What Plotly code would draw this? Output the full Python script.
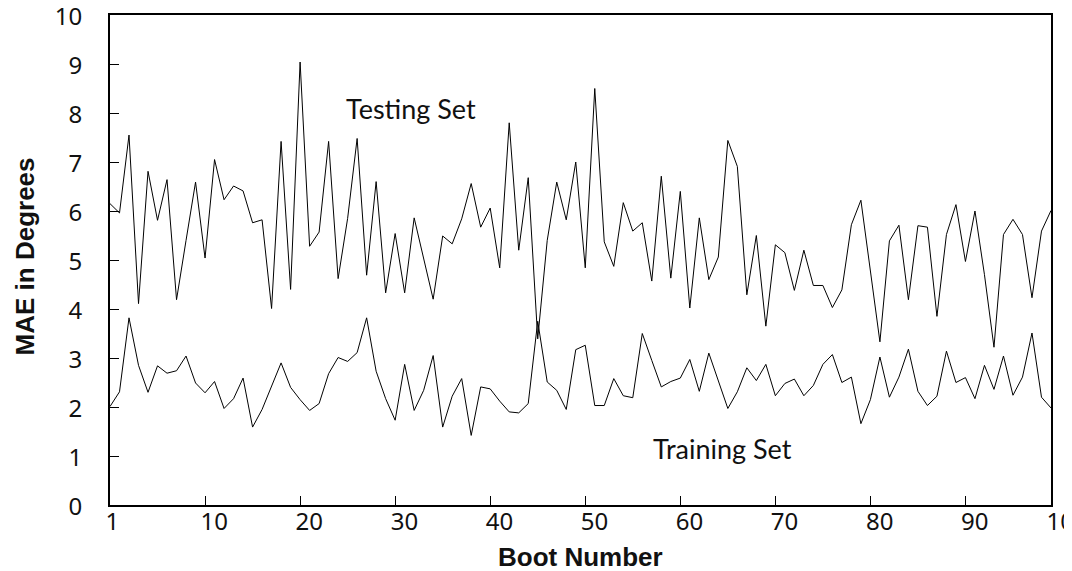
import plotly.graph_objects as go

boot_numbers = list(range(1, 101))

testing_mae = [6.15, 5.96, 7.55, 4.11, 6.81, 5.81, 6.64, 4.19, 5.40, 6.59,
               5.04, 7.05, 6.23, 6.51, 6.41, 5.76, 5.82, 4.01, 7.42, 4.40,
               9.04, 5.28, 5.57, 7.42, 4.62, 5.85, 7.48, 4.69, 6.60, 4.33,
               5.54, 4.33, 5.86, 5.03, 4.20, 5.49, 5.33, 5.84, 6.56, 5.67,
               6.06, 4.84, 7.80, 5.20, 6.68, 3.39, 5.40, 6.59, 5.82, 7.00,
               4.84, 8.50, 5.37, 4.87, 6.17, 5.59, 5.76, 4.57, 6.71, 4.63,
               6.40, 4.02, 5.86, 4.60, 5.06, 7.44, 6.91, 4.29, 5.50, 3.65,
               5.31, 5.15, 4.38, 5.20, 4.48, 4.48, 4.03, 4.39, 5.72, 6.22,
               4.75, 3.33, 5.39, 5.71, 4.19, 5.70, 5.67, 3.85, 5.52, 6.13,
               4.97, 6.00, 4.70, 3.22, 5.52, 5.83, 5.52, 4.23, 5.59, 6.01]

training_mae = [2.01, 2.31, 3.82, 2.85, 2.30, 2.84, 2.69, 2.74, 3.04, 2.49,
                2.29, 2.52, 1.97, 2.17, 2.59, 1.59, 1.95, 2.42, 2.90, 2.40,
                2.15, 1.93, 2.07, 2.68, 3.01, 2.93, 3.11, 3.82, 2.73, 2.17,
                1.73, 2.87, 1.93, 2.34, 3.05, 1.59, 2.22, 2.58, 1.42, 2.41,
                2.37, 2.12, 1.90, 1.88, 2.07, 3.75, 2.51, 2.34, 1.95, 3.17,
                3.26, 2.03, 2.03, 2.58, 2.23, 2.19, 3.50, 2.95, 2.41, 2.52,
                2.59, 2.97, 2.32, 3.10, 2.52, 1.97, 2.31, 2.80, 2.54, 2.87,
                2.23, 2.48, 2.57, 2.23, 2.44, 2.87, 3.07, 2.50, 2.61, 1.66,
                2.15, 3.02, 2.20, 2.61, 3.18, 2.32, 2.03, 2.22, 3.14, 2.50,
                2.60, 2.17, 2.85, 2.36, 3.04, 2.24, 2.61, 3.51, 2.20, 1.98]

x_tick_positions = [1, 11, 21, 31, 41, 51, 61, 71, 81, 91, 100]
x_tick_labels = ["1", "10", "20", "30", "40", "50", "60", "70", "80", "90", "100"]
y_tick_values = list(range(0, 11))

series_labels = ["Testing Set", "Training Set"]
series_label_pos = [(32.7, 8.1), (65.4, 1.16)]

TICK_FONT = dict(family="Noto Sans", size=24, color="#111111")

fig = go.Figure()
fig.add_trace(go.Scatter(x=boot_numbers, y=testing_mae, mode="lines",
                         line=dict(color="black", width=1), name="Testing Set",
                         showlegend=False))
fig.add_trace(go.Scatter(x=boot_numbers, y=training_mae, mode="lines",
                         line=dict(color="black", width=1), name="Training Set",
                         showlegend=False))

for txt, (lx, ly) in zip(series_labels, series_label_pos):
    fig.add_annotation(x=lx, y=ly, xref="x", yref="y", text=txt, showarrow=False,
                       xanchor="center", yanchor="middle",
                       font=dict(family="Lato", size=27, color="#111111"))

fig.add_annotation(x=-0.0905, y=0.507, xref="paper", yref="paper",
                   xanchor="center", yanchor="middle",
                   text="<b>MAE in Degrees</b>", textangle=-90, showarrow=False,
                   font=dict(family="Liberation Sans", size=26, color="#111111"))
fig.add_annotation(x=0.5005, y=-0.106, xref="paper", yref="paper",
                   xanchor="center", yanchor="middle",
                   text="<b>Boot Number</b>", showarrow=False,
                   font=dict(family="Liberation Sans", size=26, color="#111111"))

fig.update_layout(
    width=1072, height=571,
    margin=dict(l=102, r=29, t=7, b=74, autoexpand=False),
    paper_bgcolor="white", plot_bgcolor="white",
    xaxis=dict(range=[1, 100], tickmode="array", tickvals=x_tick_positions,
               ticktext=x_tick_labels, ticks="inside", ticklen=9, tickwidth=1,
               tickcolor="black", ticklabelposition="outside right",
               ticklabelshift=-6, ticklabelstandoff=-6, ticklabeloverflow="allow",
               automargin=False,
               showline=True, linewidth=2, linecolor="black", mirror=True,
               showgrid=False, zeroline=False, tickfont=TICK_FONT),
    yaxis=dict(range=[0, 10], tickmode="array", tickvals=y_tick_values,
               ticks="inside", ticklen=9, tickwidth=1, tickcolor="black",
               ticklabelstandoff=21, ticklabelshift=2, ticklabeloverflow="allow",
               automargin=False,
               showline=True, linewidth=2, linecolor="black", mirror=True,
               showgrid=False, zeroline=False, tickfont=TICK_FONT),
    xaxis2=dict(range=[1, 100], overlaying="x", anchor="y", side="bottom",
                tickmode="array", tickvals=x_tick_positions[1:-1], automargin=False,
                ticks="outside", ticklen=8, tickwidth=1, tickcolor="black",
                showticklabels=False, showline=False, showgrid=False, zeroline=False),
    yaxis2=dict(range=[0, 10], overlaying="y", anchor="x", side="left",
                tickmode="array", tickvals=y_tick_values, automargin=False,
                ticks="outside", ticklen=9, tickwidth=1, tickcolor="black",
                showticklabels=False, showline=False, showgrid=False, zeroline=False),
)

fig.write_html("out.html")
